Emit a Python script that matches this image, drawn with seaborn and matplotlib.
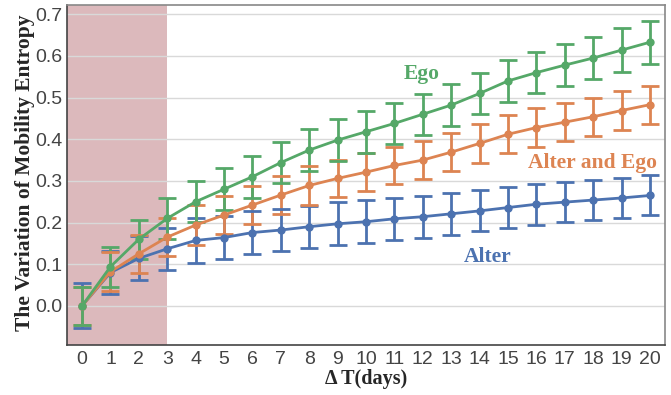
import numpy as np
import pandas as pd
import seaborn as sns
import matplotlib.pyplot as plt

sns.set_style('white')

days = list(range(21))
alter = [0.0, 0.080, 0.114, 0.137, 0.157, 0.164, 0.176, 0.182, 0.190, 0.197, 0.202,
         0.209, 0.214, 0.221, 0.228, 0.236, 0.244, 0.249, 0.254, 0.259, 0.265]
alter_err = [0.054, 0.052, 0.053, 0.050, 0.053, 0.051, 0.052, 0.050, 0.050, 0.052, 0.052,
             0.051, 0.050, 0.050, 0.049, 0.049, 0.049, 0.048, 0.048, 0.048, 0.048]
both = [0.0, 0.082, 0.125, 0.165, 0.194, 0.218, 0.242, 0.266, 0.289, 0.306, 0.321,
        0.337, 0.350, 0.369, 0.390, 0.412, 0.428, 0.441, 0.454, 0.469, 0.483]
both_err = [0.045, 0.047, 0.046, 0.045, 0.048, 0.046, 0.046, 0.046, 0.046, 0.045, 0.045,
            0.045, 0.045, 0.045, 0.046, 0.046, 0.046, 0.046, 0.046, 0.046, 0.046]
ego = [0.0, 0.094, 0.160, 0.210, 0.250, 0.280, 0.310, 0.344, 0.374, 0.398, 0.418,
       0.438, 0.460, 0.482, 0.510, 0.540, 0.560, 0.578, 0.595, 0.614, 0.633]
ego_err = [0.045, 0.048, 0.047, 0.050, 0.049, 0.051, 0.050, 0.050, 0.050, 0.050, 0.050,
           0.050, 0.049, 0.050, 0.050, 0.050, 0.050, 0.051, 0.051, 0.052, 0.052]

colors = {'Alter': '#4c72b0', 'Alter and Ego': '#dd8452', 'Ego': '#55a868'}
series = [('Alter', alter, alter_err), ('Alter and Ego', both, both_err), ('Ego', ego, ego_err)]

df = pd.concat([pd.DataFrame({'day': days, 'value': v, 'group': name}) for name, v, e in series],
               ignore_index=True)

fig = plt.figure(figsize=(6.71, 3.95), dpi=100)
ax = fig.add_axes([0.0999, 0.1266, 0.8912, 0.8604])

ax.axvspan(-0.53, 3, color='#dcb9bc', zorder=0.3, lw=0)

for z, (name, v, e) in enumerate(series):
    ax.errorbar(days, v, yerr=e, fmt='none', ecolor=colors[name], elinewidth=2,
                capsize=6.5, capthick=2, zorder=2 + z)

sns.lineplot(data=df, x='day', y='value', hue='group', palette=colors, marker='o',
             markersize=6, markeredgewidth=0, linewidth=2, legend=False, ax=ax, zorder=3)
for z, line in enumerate(ax.lines):
    line.set_zorder(2.5 + z)

ax.set_xlim(-0.53, 20.53)
ax.set_ylim(-0.094, 0.722)
ax.set_xticks(days)
ax.set_yticks(np.arange(0, 0.71, 0.1))
ax.set_yticklabels([f'{t:.1f}' for t in np.arange(0, 0.71, 0.1)])
ax.yaxis.grid(True, color='#d9d9d9', lw=1)
ax.set_axisbelow(True)
ax.tick_params(axis='y', length=0, labelsize=14, labelcolor='#444444', pad=3)
ax.tick_params(axis='x', length=0, labelsize=14, labelcolor='#444444', pad=4)
for lab in ax.get_xticklabels() + ax.get_yticklabels():
    lab.set_family('Liberation Sans')

for s in ['left', 'bottom']:
    ax.spines[s].set_color('#444444')
    ax.spines[s].set_linewidth(1.2)
for s in ['top', 'right']:
    ax.spines[s].set_color('#888888')
    ax.spines[s].set_linewidth(1.2)

ax.set_xlabel('Δ T(days)', family='Liberation Serif', weight='bold', fontsize=14.5)
ax.set_ylabel('The Variation of Mobility Entropy', family='Liberation Serif', weight='bold',
              fontsize=15.5)
ax.xaxis.set_label_coords(0.5, -0.07)
ax.yaxis.set_label_coords(-0.053, 0.507)

ax.text(11.97, 0.545, 'Ego', color=colors['Ego'], family='Liberation Serif', weight='bold',
        fontsize=15.5, ha='center', va='baseline')
ax.text(17.99, 0.332, 'Alter and Ego', color=colors['Alter and Ego'], family='Liberation Serif',
        weight='bold', fontsize=15.5, ha='center', va='baseline')
ax.text(14.28, 0.106, 'Alter', color=colors['Alter'], family='Liberation Serif', weight='bold',
        fontsize=15.5, ha='center', va='baseline')

fig.savefig('out.png', dpi=100)
